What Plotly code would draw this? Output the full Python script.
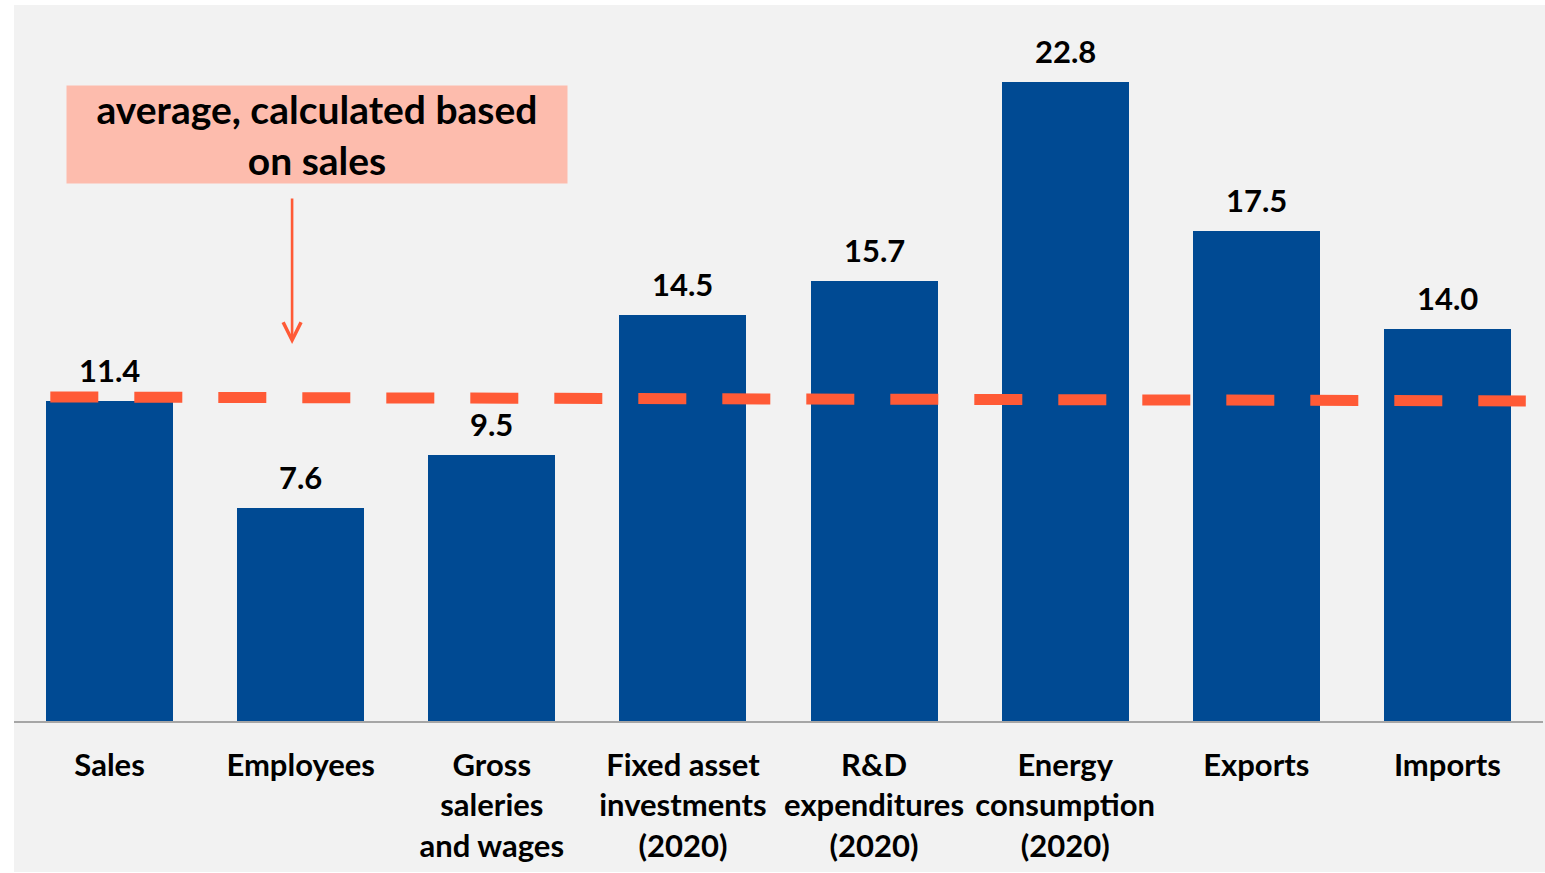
import plotly.graph_objects as go

categories = ["Sales", "Employees", "Gross<br>saleries<br>and wages", "Fixed asset<br>investments<br>(2020)",
              "R&D<br>expenditures<br>(2020)", "Energy<br>consumption<br>(2020)", "Exports", "Imports"]
values = [11.4, 7.6, 9.5, 14.5, 15.7, 22.8, 17.5, 14.0]
value_labels = ["11.4", "7.6", "9.5", "14.5", "15.7", "22.8", "17.5", "14.0"]
avg_x = [-0.31, 7.41]
avg_y = [11.56, 11.42]
note_text = "average, calculated based<br>on sales"

BLUE = "#004a93"
ORANGE = "#ff5a36"
FONT = "Lato"

xs = list(range(len(categories)))

fig = go.Figure()
fig.add_trace(go.Bar(x=xs, y=values, width=0.664, marker=dict(color=BLUE, line=dict(width=0)),
                     hoverinfo="skip"))
fig.add_trace(go.Scatter(x=avg_x, y=avg_y, mode="lines",
                         line=dict(color=ORANGE, width=11, dash="48px,36px"), hoverinfo="skip"))

for x, v, t in zip(xs, values, value_labels):
    fig.add_annotation(x=x, y=v, text=t, showarrow=False, yanchor="middle", yshift=31,
                       font=dict(family=FONT, size=31, color="black", weight="bold"))

# note box
fig.add_annotation(x=1.085, y=20.92, xref="x", yref="y", text=note_text, showarrow=False,
                   width=500, height=97, bgcolor="#fdbcad", borderpad=0, align="center",
                   font=dict(family=FONT, size=39, color="black", weight="bold"))
# arrow
fig.add_annotation(x=0.955, y=13.45, ax=0, ay=-147, showarrow=True, arrowhead=5,
                   arrowsize=1.35, arrowwidth=2.6, arrowcolor=ORANGE, text="")

# gray background panel
fig.add_shape(type="rect", xref="paper", yref="paper", x0=0, x1=1.0013, y0=-0.2154, y1=1.0214,
              fillcolor="#f2f2f2", line=dict(width=0), layer="below")

fig.update_layout(
    width=1545, height=873,
    margin=dict(l=14, r=2, t=20, b=152),
    paper_bgcolor="white", plot_bgcolor="rgba(0,0,0,0)",
    showlegend=False, bargap=0,
    font=dict(family=FONT, size=31, color="black"),
)
fig.update_xaxes(range=[-0.5, 7.5], tickvals=xs, ticktext=categories, showgrid=False, zeroline=False,
                 showline=True, linecolor="#a6a6a6", linewidth=1.5, ticks="",
                 tickfont=dict(family=FONT, size=31, color="black", weight="bold"), ticklabelstandoff=16)
fig.update_yaxes(range=[0, 25.01], visible=False, showgrid=False)

fig.write_html("out.html", config={"displayModeBar": False},
               post_script="document.body.style.margin='0';")
